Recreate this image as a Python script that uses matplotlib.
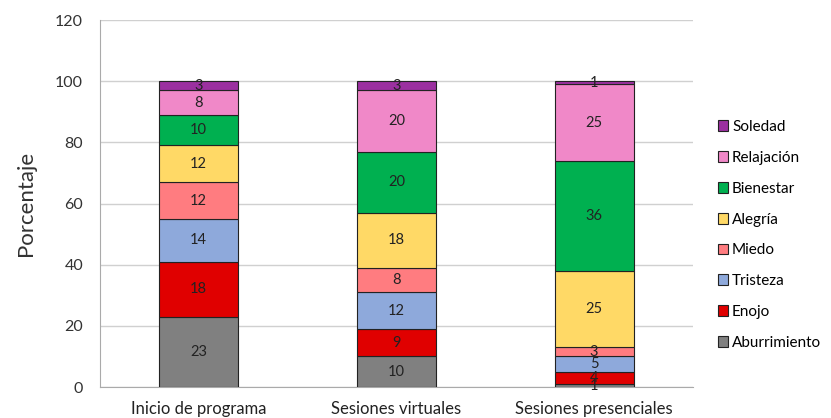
import numpy as np
import matplotlib.pyplot as plt

plt.rcParams['font.family'] = ['Lato', 'DejaVu Sans']

categories = ['Inicio de programa', 'Sesiones virtuales', 'Sesiones presenciales']
emotions = ['Aburrimiento', 'Enojo', 'Tristeza', 'Miedo', 'Alegría', 'Bienestar', 'Relajación', 'Soledad']
aburrimiento = [23, 10, 1]
enojo = [18, 9, 4]
tristeza = [14, 12, 5]
miedo = [12, 8, 3]
alegria = [12, 18, 25]
bienestar = [10, 20, 36]
relajacion = [8, 20, 25]
soledad = [3, 3, 1]
colors = ['#808080', '#E00000', '#8EA9DB', '#FF7C80', '#FFD966', '#00B050', '#F088C8', '#9B30A0']

series = [aburrimiento, enojo, tristeza, miedo, alegria, bienestar, relajacion, soledad]

fig = plt.figure(figsize=(8.31, 4.18), dpi=100)
ax = fig.add_axes([0.120, 0.074, 0.714, 0.878])

x = np.arange(len(categories))
bottom = np.zeros(len(categories))
for name, vals, c in zip(emotions, series, colors):
    ax.bar(x, vals, 0.4, bottom=bottom, color=c, edgecolor='#222222', linewidth=0.8, label=name, zorder=3)
    for xi, v, bt in zip(x, vals, bottom):
        ax.text(xi, bt + v / 2, str(v), ha='center', va='center', fontsize=10.5, color='#222222', zorder=4)
    bottom = bottom + np.array(vals)

ax.set_xlim(-0.5, 2.5)
ax.set_ylim(0, 120)
ax.set_yticks(range(0, 121, 20))
ax.set_xticks(x)
ax.set_xticklabels(categories, fontsize=12)
ax.tick_params(axis='y', labelsize=11.5, length=0, pad=12, colors='#333333')
ax.tick_params(axis='x', length=0, pad=10, colors='#222222')
ax.yaxis.grid(True, color='#D0D0D0', linewidth=1, zorder=0)
for s in ['top', 'right']:
    ax.spines[s].set_visible(False)
ax.spines['left'].set_color('#AAAAAA')
ax.spines['bottom'].set_color('#AAAAAA')
ax.set_ylabel('Porcentaje', fontsize=16, color='#333333', labelpad=14)

handles, labels = ax.get_legend_handles_labels()
fig.legend(handles[::-1], labels[::-1], loc='center left', bbox_to_anchor=(0.847, 0.438),
           frameon=False, fontsize=11, labelspacing=1.1, handlelength=0.7, handleheight=0.7,
           handletextpad=0.25)

fig.savefig('out.png', dpi=100)
